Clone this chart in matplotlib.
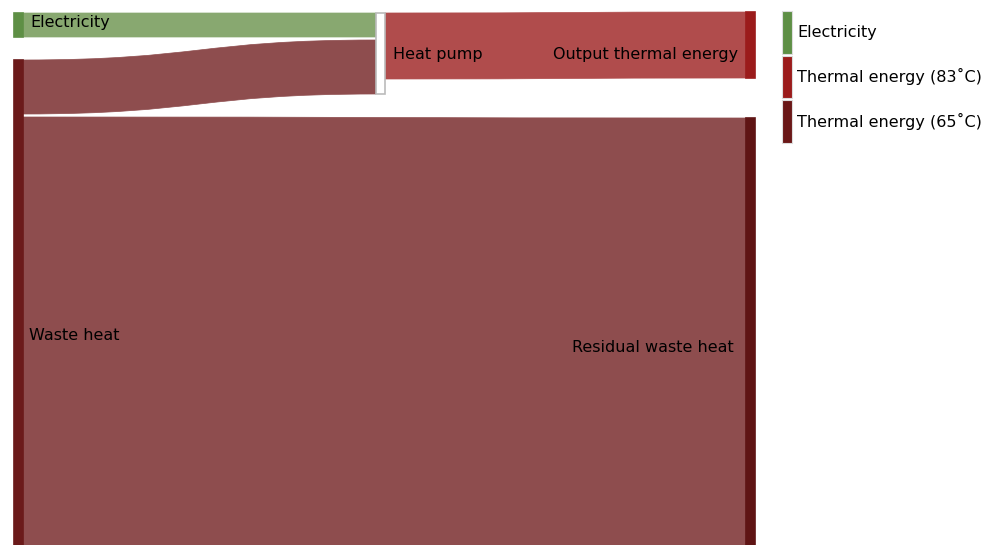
import matplotlib.pyplot as plt
from matplotlib.path import Path
from matplotlib.patches import PathPatch, Rectangle

# flows (source, target, value)
sources = ["Electricity", "Waste heat", "Heat pump", "Waste heat"]
targets = ["Heat pump", "Heat pump", "Output thermal energy", "Residual waste heat"]
values = [24, 54, 66, 475]
link_colors = ["#88a870", "#8e4d4e", "#b04c4c", "#8e4d4e"]

node_names = ["Electricity", "Waste heat", "Heat pump", "Output thermal energy", "Residual waste heat"]
node_colors = ["#5e8f45", "#6b1a1a", "#ffffff", "#9b1b1b", "#5f1414"]

legend_labels = ["Electricity", "Thermal energy (83˚C)", "Thermal energy (65˚C)"]
legend_colors = ["#5e8f45", "#9b1b1b", "#6a1717"]

# layout (pixels)
col_x = {"Electricity": 14, "Waste heat": 14, "Heat pump": 376,
         "Output thermal energy": 746, "Residual waste heat": 746}
node_top = {"Electricity": 13, "Waste heat": 60, "Heat pump": 13,
            "Output thermal energy": 12, "Residual waste heat": 118}
node_w = 9
gap = 3

fig = plt.figure(figsize=(9.88, 5.45), dpi=100)
ax = fig.add_axes([0, 0, 1, 1])
ax.set_xlim(0, 988)
ax.set_ylim(545, 0)
ax.axis("off")

# node heights = max(in, out)
inflow = {n: 0 for n in node_names}
outflow = {n: 0 for n in node_names}
for s, t, v in zip(sources, targets, values):
    outflow[s] += v
    inflow[t] += v
height = {}
for n in node_names:
    n_links = max(sum(1 for s in sources if s == n), sum(1 for t in targets if t == n))
    height[n] = max(inflow[n], outflow[n]) + gap * (n_links - 1)

# links
out_off = {n: 0 for n in node_names}
in_off = {n: 0 for n in node_names}
for s, t, v, c in zip(sources, targets, values, link_colors):
    x0 = col_x[s] + node_w
    x1 = col_x[t]
    y0 = node_top[s] + out_off[s]
    y1 = node_top[t] + in_off[t]
    out_off[s] += v + gap
    in_off[t] += v + gap
    xm = (x0 + x1) / 2
    verts = [(x0, y0), (xm, y0), (xm, y1), (x1, y1),
             (x1, y1 + v), (xm, y1 + v), (xm, y0 + v), (x0, y0 + v), (x0, y0)]
    codes = [Path.MOVETO, Path.CURVE4, Path.CURVE4, Path.CURVE4,
             Path.LINETO, Path.CURVE4, Path.CURVE4, Path.CURVE4, Path.CLOSEPOLY]
    ax.add_patch(PathPatch(Path(verts, codes), fc=c, ec=c, lw=0.5))

# nodes
for n, c in zip(node_names, node_colors):
    ec = "#bbbbbb" if c == "#ffffff" else c
    ax.add_patch(Rectangle((col_x[n], node_top[n]), node_w, height[n],
                           fc=c, ec=ec, lw=1.2))

# node labels
fs = 11.5
ax.text(30, 23, "Electricity", ha="left", va="center", fontsize=fs)
ax.text(29, 335, "Waste heat", ha="left", va="center", fontsize=fs)
ax.text(393, 55, "Heat pump", ha="left", va="center", fontsize=fs)
ax.text(738, 55, "Output thermal energy", ha="right", va="center", fontsize=fs)
ax.text(734, 347, "Residual waste heat", ha="right", va="center", fontsize=fs)

# legend
for i, (lab, c) in enumerate(zip(legend_labels, legend_colors)):
    y = 11 + i * 44.5
    ax.add_patch(Rectangle((782, y), 10, 42.5, fc=c, ec="#dddddd", lw=0.8))
    ax.text(797, y + 21, lab, ha="left", va="center", fontsize=fs)

fig.savefig("out.png", dpi=100)
